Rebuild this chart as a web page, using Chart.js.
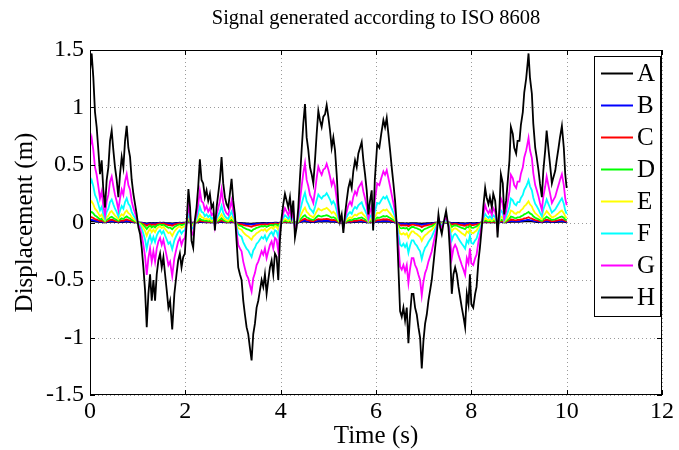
<!DOCTYPE html>
<html>
<head>
<meta charset="utf-8">
<script src="https://cdn.jsdelivr.net/npm/chart.js@4.4.1/dist/chart.umd.min.js"></script>
<style>html,body{margin:0;padding:0;background:#fff;}canvas{display:block;}</style>
</head>
<body>
<canvas id="c" width="679" height="450"></canvas>
<script>
const title = 'Signal generated according to ISO 8608';
const xLabel = 'Time (s)';
const yLabel = 'Displacement (m)';
const classLabels = ['A','B','C','D','E','F','G','H'];
const classColors = ['#000000','#0000ff','#ff0000','#00ff00','#ffff00','#00ffff','#ff00ff','#000000'];
const xTicks = [0,2,4,6,8,10,12];
const yTicks = [-1.5,-1,-0.5,0,0.5,1,1.5];

const time = [
0,0.035,0.07,0.105,0.14, 0.175,0.21,0.245,0.28,0.315, 0.35,0.385,0.42,0.455,0.49, 0.525,0.56,0.595,0.63,0.665, 0.70,0.735,0.77,0.805,0.84, 0.875,0.91,0.945,0.98,1.015, 1.05,1.085,1.12,1.155,1.19, 1.225,1.26,1.295,1.33,1.365, 1.40,1.435,1.47,1.505,1.54, 1.575,1.61,1.645,1.68,1.725, 1.77,1.815,1.85,1.885,1.92, 1.955,
1.99,2.03,2.065,2.10,2.13, 2.165,2.20,2.235,2.27,2.305, 2.34,2.375,2.41,2.445,2.48, 2.515,2.55,2.585,2.62,2.655, 2.69,2.725,2.76,2.795,2.83, 2.865,2.90,2.935,2.97,3.005, 3.04,3.075,3.11,3.145,3.18, 3.215,3.25,3.285,3.32,3.355, 3.39,3.425,3.46,3.495,3.53, 3.565,3.60,3.635,3.67,3.705, 3.74,3.775,3.81,3.845,3.88, 3.915,3.95,3.985,
4.02,4.055,4.09,4.125,4.16, 4.195,4.23,4.265,4.30,4.335, 4.37,4.405,4.44,4.475,4.51, 4.545,4.58,4.615,4.65,4.685, 4.72,4.755,4.79,4.825,4.86, 4.895,4.93,4.965,5.00,5.035, 5.07,5.105,5.14,5.175,5.21, 5.245,5.28,5.315,5.35,5.385, 5.42,5.455,5.49,5.525,5.56, 5.595,5.63,5.665,5.70,5.735, 5.77,5.805,5.84,5.875,5.91, 5.94,5.975,
6.025,6.07,6.11,6.155,6.19, 6.225,6.26,6.295,6.33,6.365, 6.40,6.435,6.47,6.505,6.54, 6.575,6.61,6.645,6.68,6.715, 6.75,6.785,6.82,6.855,6.89, 6.925,6.96,6.995,7.03,7.065, 7.10,7.135,7.17,7.205,7.24, 7.275,7.31,7.345,7.38,7.415, 7.47,7.52,7.555,7.59,7.625, 7.66,7.695,7.73,7.765,7.80, 7.835,7.87,7.905,7.94,
7.97,8.00,8.04,8.08,8.11, 8.15,8.18,8.22,8.25,8.29, 8.32,8.36,8.39,8.43,8.46, 8.50,8.53,8.55,8.59,8.62, 8.66,8.69,8.73,8.76,8.80, 8.83,8.87,8.90,8.94,8.97, 9.01,9.04,9.08,9.11,9.15, 9.18,9.20,9.23,9.27,9.30, 9.34,9.37,9.41,9.44,9.48, 9.51,9.55,9.58,9.62,9.65, 9.69,9.72,9.76,9.79,9.83, 9.86,9.90,9.94,9.97,10.00
];

const classH = [
1.32,1.47,1.26,0.96,0.83, 0.63,0.42,0.54,0.28,0.13, 0.37,0.48,0.71,0.80,0.63, 0.48,0.37,0.22,0.42,0.57, 0.48,0.71,0.84,0.65,0.57, 0.37,0.25,0.16,0.07,-0.04, -0.10,-0.22,-0.39,-0.59,-0.91, -0.62,-0.45,-0.68,-0.50,-0.68, -0.45,-0.33,-0.27,-0.39,-0.30, -0.45,-0.59,-0.74,-0.68,-0.93, -0.62,-0.45,-0.33,-0.27,-0.39, -0.30,
-0.27,0.02,0.29,0.13,-0.16, -0.22,0.02,0.13,0.31,0.55, 0.37,0.34,0.22,0.28,0.19, 0.25,0.13,0.16,-0.07,0.13, 0.25,0.37,0.57,0.34,0.22, 0.16,0.13,0.25,0.38,0.19, 0.07,-0.16,-0.39,-0.45,-0.50, -0.68,-0.80,-0.91,-0.97,-1.09, -1.20,-0.97,-0.88,-0.74,-0.68, -0.59,-0.50,-0.56,-0.45,-0.62, -0.50,-0.39,-0.33,-0.45,-0.27, -0.30,-0.50,-0.15,
0.04,0.16,0.25,0.19,0.13, 0.22,0.07,0.19,-0.13,-0.04, 0.13,0.39,0.63,0.86,1.03, 0.74,0.63,0.48,0.42,0.34, 0.54,0.77,0.97,0.89,0.83, 0.92,0.94,1.02,0.92,0.80, 0.65,0.74,0.63,0.42,0.16, 0.01,0.07,-0.09,0.07,0.19, 0.30,0.36,0.30,0.45,0.54, 0.48,0.60,0.65,0.70,0.54, 0.42,0.28,0.07,0.19,0.28, -0.07,0.37,
0.68,0.65,0.77,0.89,0.83, 0.91,0.77,0.63,0.48,0.34, 0.19,-0.02,-0.39,-0.77,-0.82, -0.74,-0.85,-0.74,-1.05,-0.80, -0.62,-0.62,-0.74,-0.80,-0.91, -1.00,-1.27,-1.03,-0.88,-0.80, -0.68,-0.59,-0.50,-0.36,-0.22, -0.10,0.07,-0.04,-0.10,-0.01, 0.10,-0.04,-0.28,-0.62,-0.45, -0.39,-0.45,-0.56,-0.65,-0.74, -0.82,-0.91,-0.62,-0.71,
-0.45,-0.71,-0.74,-0.62,-0.56, -0.33,-0.22,-0.04,0.13,0.30, 0.22,0.16,0.22,0.13,0.25, 0.19,0.04,-0.13,0.13,0.42, 0.34,0.07,0.19,0.34,0.54, 0.83,0.77,0.65,0.60,0.71, 0.71,0.85,0.96,1.13,1.25, 1.38,1.47,1.26,1.12,0.86, 0.65,0.57,0.45,0.34,0.22, 0.45,0.63,0.80,0.63,0.51, 0.34,0.39,0.45,0.54,0.65, 0.74,0.84,0.65,0.42,0.30
];

const classG = [
.66,.735,.63,.48,.415, .315,.21,.27,.14,.065, .185,.24,.355,.40,.315, .24,.185,.11,.21,.285, .24,.355,.42,.325,.285, .185,.125,.08,.035,-.02, -.05,-.11,-.195,-.295,-.455, -.31,-.225,-.34,-.25,-.34, -.225,-.165,-.135,-.195,-.15, -.225,-.295,-.37,-.34,-.465, -.31,-.225,-.165,-.135,-.195, -.15,
-.135,.01,.145,.065,-.08, -.11,.01,.065,.155,.275, .185,.17,.11,.14,.095, .125,.065,.08,-.035,.065, .125,.185,.285,.17,.11, .08,.065,.125,.19,.095, .035,-.08,-.195,-.225,-.25, -.34,-.40,-.455,-.485,-.545, -.60,-.485,-.44,-.37,-.34, -.295,-.25,-.28,-.225,-.31, -.25,-.195,-.165,-.225,-.135, -.15,-.25,-.075,
.02,.08,.125,.095,.065, .11,.035,.095,-.065,-.02, .065,.195,.315,.43,.515, .37,.315,.24,.21,.17, .27,.385,.485,.445,.415, .46,.47,.51,.46,.40, .325,.37,.315,.21,.08, .005,.035,-.045,.035,.095, .15,.18,.15,.225,.27, .24,.30,.325,.35,.27, .21,.14,.035,.095,.14, -.035,.185,
.34,.325,.385,.445,.415, .455,.385,.315,.24,.17, .095,-.01,-.195,-.385,-.41, -.37,-.425,-.37,-.525,-.40, -.31,-.31,-.37,-.40,-.455, -.50,-.635,-.515,-.44,-.40, -.34,-.295,-.25,-.18,-.11, -.05,.035,-.02,-.05,-.005, .05,-.02,-.14,-.31,-.225, -.195,-.225,-.28,-.325,-.37, -.41,-.455,-.31,-.355,
-.225,-.355,-.37,-.31,-.28, -.165,-.11,-.02,.065,.15, .11,.08,.11,.065,.125, .095,.02,-.065,.065,.21, .17,.035,.095,.17,.27, .415,.385,.325,.30,.355, .355,.425,.48,.565,.625, .69,.735,.63,.56,.43, .325,.285,.225,.17,.11, .225,.315,.40,.315,.255, .17,.195,.225,.27,.325, .37,.42,.325,.21,.15
];

const classF = [
.33,.368,.315,.24,.208, .158,.105,.135,.07,.033, .093,.12,.178,.20,.158, .12,.093,.055,.105,.143, .12,.178,.21,.163,.143, .093,.063,.04,.018,-.01, -.025,-.055,-.098,-.148,-.228, -.155,-.113,-.17,-.125,-.17, -.113,-.083,-.068,-.098,-.075, -.113,-.148,-.185,-.17,-.233, -.155,-.113,-.083,-.068,-.098, -.075,
-.068,.005,.073,.033,-.04, -.055,.005,.033,.078,.138, .093,.085,.055,.07,.048, .063,.033,.04,-.018,.033, .063,.093,.143,.085,.055, .04,.033,.063,.095,.048, .018,-.04,-.098,-.113,-.125, -.17,-.20,-.228,-.243,-.273, -.30,-.243,-.22,-.185,-.17, -.148,-.125,-.14,-.113,-.155, -.125,-.098,-.083,-.113,-.068, -.075,-.125,-.038,
.01,.04,.063,.048,.033, .055,.018,.048,-.033,-.01, .033,.098,.158,.215,.258, .185,.158,.12,.105,.085, .135,.193,.243,.223,.208, .23,.235,.255,.23,.20, .163,.185,.158,.105,.04, .003,.018,-.023,.018,.048, .075,.09,.075,.113,.135, .12,.15,.163,.175,.135, .105,.07,.018,.048,.07, -.018,.093,
.17,.163,.193,.223,.208, .228,.193,.158,.12,.085, .048,-.005,-.098,-.193,-.205, -.185,-.213,-.185,-.263,-.20, -.155,-.155,-.185,-.20,-.228, -.25,-.318,-.258,-.22,-.20, -.17,-.148,-.125,-.09,-.055, -.025,.018,-.01,-.025,-.003, .025,-.01,-.07,-.155,-.113, -.098,-.113,-.14,-.163,-.185, -.205,-.228,-.155,-.178,
-.113,-.178,-.185,-.155,-.14, -.083,-.055,-.01,.033,.075, .055,.04,.055,.033,.063, .048,.01,-.033,.033,.105, .085,.018,.048,.085,.135, .208,.193,.163,.15,.178, .178,.213,.24,.283,.313, .345,.368,.315,.28,.215, .163,.143,.113,.085,.055, .113,.158,.20,.158,.128, .085,.098,.113,.135,.163, .185,.21,.163,.105,.075
];

const classE = [
.165,.184,.158,.12,.104, .079,.053,.068,.035,.016, .046,.06,.089,.10,.079, .06,.046,.028,.053,.071, .06,.089,.105,.081,.071, .046,.031,.02,.009,-.005, -.013,-.028,-.049,-.074,-.114, -.078,-.056,-.085,-.063,-.085, -.056,-.041,-.034,-.049,-.038, -.056,-.074,-.093,-.085,-.116, -.078,-.056,-.041,-.034,-.049, -.038,
-.034,.003,.036,.016,-.02, -.028,.003,.016,.039,.069, .046,.043,.028,.035,.024, .031,.016,.02,-.009,.016, .031,.046,.071,.043,.028, .02,.016,.031,.048,.024, .009,-.02,-.049,-.056,-.063, -.085,-.10,-.114,-.121,-.136, -.15,-.121,-.11,-.093,-.085, -.074,-.063,-.07,-.056,-.078, -.063,-.049,-.041,-.056,-.034, -.038,-.063,-.019,
.005,.02,.031,.024,.016, .028,.009,.024,-.016,-.005, .016,.049,.079,.108,.129, .093,.079,.06,.053,.043, .068,.096,.121,.111,.104, .115,.118,.128,.115,.10, .081,.093,.079,.053,.02, .001,.009,-.011,.009,.024, .038,.045,.038,.056,.068, .06,.075,.081,.088,.068, .053,.035,.009,.024,.035, -.009,.046,
.085,.081,.096,.111,.104, .114,.096,.079,.06,.043, .024,-.003,-.049,-.096,-.103, -.093,-.106,-.093,-.131,-.10, -.078,-.078,-.093,-.10,-.114, -.125,-.159,-.129,-.11,-.10, -.085,-.074,-.063,-.045,-.028, -.013,.009,-.005,-.013,-.001, .013,-.005,-.035,-.078,-.056, -.049,-.056,-.07,-.081,-.093, -.103,-.114,-.078,-.089,
-.056,-.089,-.093,-.078,-.07, -.041,-.028,-.005,.016,.038, .028,.02,.028,.016,.031, .024,.005,-.016,.016,.053, .043,.009,.024,.043,.068, .104,.096,.081,.075,.089, .089,.106,.12,.141,.156, .173,.184,.158,.14,.108, .081,.071,.056,.043,.028, .056,.079,.10,.079,.064, .043,.049,.056,.068,.081, .093,.105,.081,.053,.038
];

const classD = [
.083,.092,.079,.06,.052, .039,.026,.034,.018,.008, .023,.03,.044,.05,.039, .03,.023,.014,.026,.036, .03,.044,.053,.041,.036, .023,.016,.01,.004,-.003, -.006,-.014,-.024,-.037,-.057, -.039,-.028,-.043,-.031,-.043, -.028,-.021,-.017,-.024,-.019, -.028,-.037,-.046,-.043,-.058, -.039,-.028,-.021,-.017,-.024, -.019,
-.017,.001,.018,.008,-.01, -.014,.001,.008,.019,.034, .023,.021,.014,.018,.012, .016,.008,.01,-.004,.008, .016,.023,.036,.021,.014, .01,.008,.016,.024,.012, .004,-.01,-.024,-.028,-.031, -.043,-.05,-.057,-.061,-.068, -.075,-.061,-.055,-.046,-.043, -.037,-.031,-.035,-.028,-.039, -.031,-.024,-.021,-.028,-.017, -.019,-.031,-.009,
.003,.01,.016,.012,.008, .014,.004,.012,-.008,-.003, .008,.024,.039,.054,.064, .046,.039,.03,.026,.021, .034,.048,.061,.056,.052, .058,.059,.064,.058,.05, .041,.046,.039,.026,.01, .001,.004,-.006,.004,.012, .019,.023,.019,.028,.034, .03,.038,.041,.044,.034, .026,.018,.004,.012,.018, -.004,.023,
.043,.041,.048,.056,.052, .057,.048,.039,.03,.021, .012,-.001,-.024,-.048,-.051, -.046,-.053,-.046,-.066,-.05, -.039,-.039,-.046,-.05,-.057, -.063,-.079,-.064,-.055,-.05, -.043,-.037,-.031,-.023,-.014, -.006,.004,-.003,-.006,-.001, .006,-.003,-.018,-.039,-.028, -.024,-.028,-.035,-.041,-.046, -.051,-.057,-.039,-.044,
-.028,-.044,-.046,-.039,-.035, -.021,-.014,-.003,.008,.019, .014,.01,.014,.008,.016, .012,.003,-.008,.008,.026, .021,.004,.012,.021,.034, .052,.048,.041,.038,.044, .044,.053,.06,.071,.078, .086,.092,.079,.07,.054, .041,.036,.028,.021,.014, .028,.039,.05,.039,.032, .021,.024,.028,.034,.041, .046,.053,.041,.026,.019
];

const classC = [
.041,.046,.039,.03,.026, .02,.013,.017,.009,.004, .012,.015,.022,.025,.02, .015,.012,.007,.013,.018, .015,.022,.026,.02,.018, .012,.008,.005,.002,-.001, -.003,-.007,-.012,-.018,-.028, -.019,-.014,-.021,-.016,-.021, -.014,-.01,-.008,-.012,-.009, -.014,-.018,-.023,-.021,-.029, -.019,-.014,-.01,-.008,-.012, -.009,
-.008,.001,.009,.004,-.005, -.007,.001,.004,.01,.017, .012,.011,.007,.009,.006, .008,.004,.005,-.002,.004, .008,.012,.018,.011,.007, .005,.004,.008,.012,.006, .002,-.005,-.012,-.014,-.016, -.021,-.025,-.028,-.03,-.034, -.038,-.03,-.028,-.023,-.021, -.018,-.016,-.018,-.014,-.019, -.016,-.012,-.01,-.014,-.008, -.009,-.016,-.005,
.001,.005,.008,.006,.004, .007,.002,.006,-.004,-.001, .004,.012,.02,.027,.032, .023,.02,.015,.013,.011, .017,.024,.03,.028,.026, .029,.029,.032,.029,.025, .02,.023,.02,.013,.005, 0,.002,-.003,.002,.006, .009,.011,.009,.014,.017, .015,.019,.02,.022,.017, .013,.009,.002,.006,.009, -.002,.012,
.021,.02,.024,.028,.026, .028,.024,.02,.015,.011, .006,-.001,-.012,-.024,-.026, -.023,-.027,-.023,-.033,-.025, -.019,-.019,-.023,-.025,-.028, -.031,-.04,-.032,-.028,-.025, -.021,-.018,-.016,-.011,-.007, -.003,.002,-.001,-.003,0, .003,-.001,-.009,-.019,-.014, -.012,-.014,-.018,-.02,-.023, -.026,-.028,-.019,-.022,
-.014,-.022,-.023,-.019,-.018, -.01,-.007,-.001,.004,.009, .007,.005,.007,.004,.008, .006,.001,-.004,.004,.013, .011,.002,.006,.011,.017, .026,.024,.02,.019,.022, .022,.027,.03,.035,.039, .043,.046,.039,.035,.027, .02,.018,.014,.011,.007, .014,.02,.025,.02,.016, .011,.012,.014,.017,.02, .023,.026,.02,.013,.009
];

const classB = [
.021,.023,.02,.015,.013, .01,.007,.008,.004,.002, .006,.008,.011,.013,.01, .008,.006,.003,.007,.009, .008,.011,.013,.01,.009, .006,.004,.003,.001,-.001, -.002,-.003,-.006,-.009,-.014, -.01,-.007,-.011,-.008,-.011, -.007,-.005,-.004,-.006,-.005, -.007,-.009,-.012,-.011,-.015, -.01,-.007,-.005,-.004,-.006, -.005,
-.004,0,.005,.002,-.003, -.003,0,.002,.005,.009, .006,.005,.003,.004,.003, .004,.002,.003,-.001,.002, .004,.006,.009,.005,.003, .003,.002,.004,.006,.003, .001,-.003,-.006,-.007,-.008, -.011,-.013,-.014,-.015,-.017, -.019,-.015,-.014,-.012,-.011, -.009,-.008,-.009,-.007,-.01, -.008,-.006,-.005,-.007,-.004, -.005,-.008,-.002,
.001,.003,.004,.003,.002, .003,.001,.003,-.002,-.001, .002,.006,.01,.013,.016, .012,.01,.008,.007,.005, .008,.012,.015,.014,.013, .014,.015,.016,.014,.013, .01,.012,.01,.007,.003, 0,.001,-.001,.001,.003, .005,.006,.005,.007,.008, .008,.009,.01,.011,.008, .007,.004,.001,.003,.004, -.001,.006,
.011,.01,.012,.014,.013, .014,.012,.01,.008,.005, .003,0,-.006,-.012,-.013, -.012,-.013,-.012,-.016,-.013, -.01,-.01,-.012,-.013,-.014, -.016,-.02,-.016,-.014,-.013, -.011,-.009,-.008,-.006,-.003, -.002,.001,-.001,-.002,0, .002,-.001,-.004,-.01,-.007, -.006,-.007,-.009,-.01,-.012, -.013,-.014,-.01,-.011,
-.007,-.011,-.012,-.01,-.009, -.005,-.003,-.001,.002,.005, .003,.003,.003,.002,.004, .003,.001,-.002,.002,.007, .005,.001,.003,.005,.008, .013,.012,.01,.009,.011, .011,.013,.015,.018,.02, .022,.023,.02,.018,.013, .01,.009,.007,.005,.003, .007,.01,.013,.01,.008, .005,.006,.007,.008,.01, .012,.013,.01,.007,.005
];

const classA = [
.01,.011,.01,.008,.006, .005,.003,.004,.002,.001, .003,.004,.006,.006,.005, .004,.003,.002,.003,.004, .004,.006,.007,.005,.004, .003,.002,.001,.001,0, -.001,-.002,-.003,-.005,-.007, -.005,-.004,-.005,-.004,-.005, -.004,-.003,-.002,-.003,-.002, -.004,-.005,-.006,-.005,-.007, -.005,-.004,-.003,-.002,-.003, -.002,
-.002,0,.002,.001,-.001, -.002,0,.001,.002,.004, .003,.003,.002,.002,.001, .002,.001,.001,-.001,.001, .002,.003,.004,.003,.002, .001,.001,.002,.003,.001, .001,-.001,-.003,-.004,-.004, -.005,-.006,-.007,-.008,-.009, -.009,-.008,-.007,-.006,-.005, -.005,-.004,-.004,-.004,-.005, -.004,-.003,-.003,-.004,-.002, -.002,-.004,-.001,
0,.001,.002,.001,.001, .002,.001,.001,-.001,0, .001,.003,.005,.007,.008, .006,.005,.004,.003,.003, .004,.006,.008,.007,.006, .007,.007,.008,.007,.006, .005,.006,.005,.003,.001, 0,.001,-.001,.001,.001, .002,.003,.002,.004,.004, .004,.005,.005,.005,.004, .003,.002,.001,.001,.002, -.001,.003,
.005,.005,.006,.007,.006, .007,.006,.005,.004,.003, .001,0,-.003,-.006,-.006, -.006,-.007,-.006,-.008,-.006, -.005,-.005,-.006,-.006,-.007, -.008,-.01,-.008,-.007,-.006, -.005,-.005,-.004,-.003,-.002, -.001,.001,0,-.001,0, .001,0,-.002,-.005,-.004, -.003,-.004,-.004,-.005,-.006, -.006,-.007,-.005,-.006,
-.004,-.006,-.006,-.005,-.004, -.003,-.002,0,.001,.002, .002,.001,.002,.001,.002, .001,0,-.001,.001,.003, .003,.001,.001,.003,.004, .006,.006,.005,.005,.006, .006,.007,.008,.009,.01, .011,.011,.01,.009,.007, .005,.004,.004,.003,.002, .004,.005,.006,.005,.004, .003,.003,.004,.004,.005, .006,.007,.005,.003,.002
];

const seriesValues = [classA, classB, classC, classD, classE, classF, classG, classH];
const SERIF = "'Liberation Serif', 'Times New Roman', serif";

const datasets = seriesValues.map((vals, i) => ({
  label: classLabels[i],
  data: time.map((t, k) => ({x: t, y: vals[k]})),
  borderColor: classColors[i],
  backgroundColor: classColors[i],
  borderWidth: 1.8,
  pointRadius: 0,
  tension: 0,
  fill: false,
  order: classLabels.length - 1 - i
}));

const matlabAxes = {
  id: 'matlabAxes',
  beforeDatasetsDraw(chart) {
    const {ctx, chartArea: a, scales: {x, y}} = chart;
    ctx.save();
    ctx.strokeStyle = '#9a9a9a';
    ctx.lineWidth = 1;
    ctx.setLineDash([1, 3]);
    xTicks.forEach(v => {
      const px = Math.round(x.getPixelForValue(v)) + 0.5;
      ctx.beginPath(); ctx.moveTo(px, a.top); ctx.lineTo(px, a.bottom); ctx.stroke();
    });
    yTicks.forEach(v => {
      const py = Math.round(y.getPixelForValue(v)) + 0.5;
      ctx.beginPath(); ctx.moveTo(a.left, py); ctx.lineTo(a.right, py); ctx.stroke();
    });
    ctx.restore();
  },
  afterDatasetsDraw(chart) {
    const {ctx, chartArea: a, scales: {x, y}} = chart;
    ctx.save();
    ctx.strokeStyle = '#000';
    ctx.lineWidth = 1;
    ctx.setLineDash([]);
    ctx.strokeRect(a.left + 0.5, a.top + 0.5, a.right - a.left - 1, a.bottom - a.top - 1);
    const tl = 5;
    xTicks.forEach(v => {
      const px = Math.round(x.getPixelForValue(v)) + 0.5;
      ctx.beginPath();
      ctx.moveTo(px, a.bottom); ctx.lineTo(px, a.bottom - tl);
      ctx.moveTo(px, a.top); ctx.lineTo(px, a.top + tl);
      ctx.stroke();
    });
    yTicks.forEach(v => {
      const py = Math.round(y.getPixelForValue(v)) + 0.5;
      ctx.beginPath();
      ctx.moveTo(a.left, py); ctx.lineTo(a.left + tl, py);
      ctx.moveTo(a.right, py); ctx.lineTo(a.right - tl, py);
      ctx.stroke();
    });
    // legend box (MATLAB style, inside the axes)
    const lx = 594, ly = 56, lw = 66, lh = 260;
    ctx.fillStyle = '#fff';
    ctx.fillRect(lx, ly, lw, lh);
    ctx.strokeRect(lx + 0.5, ly + 0.5, lw, lh);
    ctx.font = '25px ' + SERIF;
    ctx.textAlign = 'left';
    ctx.textBaseline = 'middle';
    chart.data.datasets.forEach((ds, i) => {
      const cy = ly + 17.5 + i * 32;
      ctx.strokeStyle = ds.borderColor;
      ctx.lineWidth = 2;
      ctx.beginPath(); ctx.moveTo(601, cy); ctx.lineTo(633, cy); ctx.stroke();
      ctx.fillStyle = '#000';
      ctx.fillText(ds.label, 637, cy + 1);
    });
    // title centred over the axes
    ctx.fillStyle = '#000';
    ctx.font = '20.5px ' + SERIF;
    ctx.textAlign = 'center';
    ctx.textBaseline = 'middle';
    ctx.fillText(title, (a.left + a.right) / 2, 19);
    ctx.restore();
  }
};

new Chart(document.getElementById('c'), {
  type: 'line',
  data: {datasets},
  plugins: [matlabAxes],
  options: {
    responsive: false,
    animation: false,
    devicePixelRatio: 1,
    layout: {padding: {left: 0, right: 17, top: 50, bottom: 0}},
    plugins: {
      legend: {display: false},
      tooltip: {enabled: false},
      title: {display: false}
    },
    scales: {
      x: {
        type: 'linear',
        min: 0, max: 12,
        afterBuildTicks: s => { s.ticks = xTicks.map(v => ({value: v})); },
        afterFit: s => { s.height = 55; },
        grid: {display: false, drawTicks: false},
        border: {display: false},
        ticks: {color: '#000', font: {family: SERIF, size: 24}, padding: 2, maxRotation: 0,
                callback: v => String(v)},
        title: {display: true, text: xLabel, color: '#000', font: {family: SERIF, size: 25}, padding: {top: 0, bottom: -1}}
      },
      y: {
        type: 'linear',
        min: -1.5, max: 1.5,
        afterBuildTicks: s => { s.ticks = yTicks.map(v => ({value: v})); },
        afterFit: s => { s.width = 90; },
        grid: {display: false, drawTicks: false},
        border: {display: false},
        ticks: {color: '#000', font: {family: SERIF, size: 24}, padding: 6,
                callback: v => String(v)},
        title: {display: true, text: yLabel, color: '#000', font: {family: SERIF, size: 25}, padding: {top: 10, bottom: 0}}
      }
    }
  }
});
</script>
</body>
</html>
